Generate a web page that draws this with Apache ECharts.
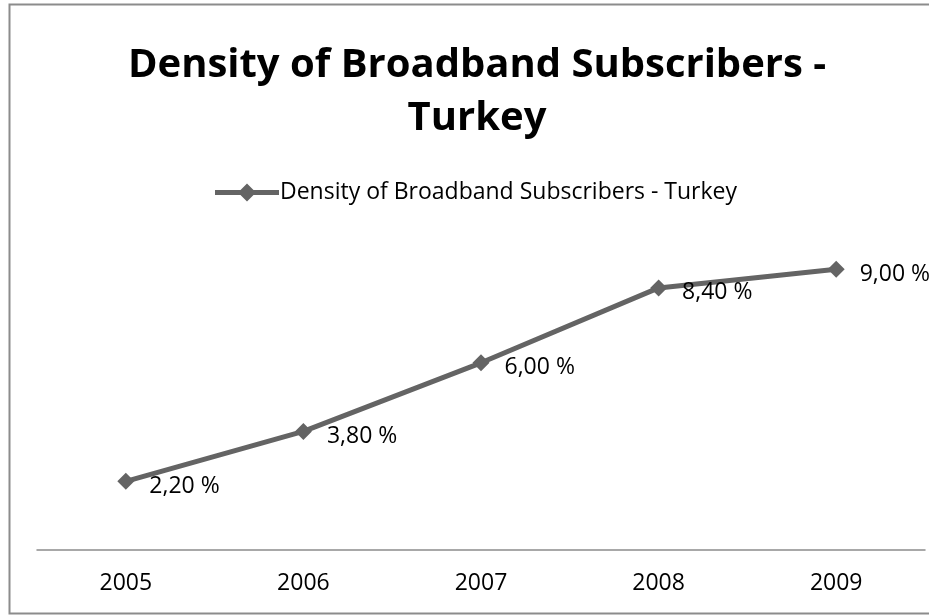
<!DOCTYPE html>
<html>
<head>
<meta charset="utf-8">
<script src="https://cdn.jsdelivr.net/npm/echarts@6/dist/echarts.min.js"></script>
<style>
  html, body { margin: 0; padding: 0; background: #fff; }
  #chart { width: 929px; height: 616px; }
</style>
</head>
<body>
<div id="chart"></div>
<script>
// Broadband subscriber density in Turkey, by year (percent)
const years = ['2005', '2006', '2007', '2008', '2009'];
const density = [2.2, 3.8, 6.0, 8.4, 9.0];
const seriesName = 'Density of Broadband Subscribers - Turkey';
const titleText = 'Density of Broadband Subscribers -\nTurkey';

const FONT = '"Open Sans", Lato, sans-serif';
const LINE = '#646464';

// legend key: thick line segment with a diamond marker in the middle
const LEGEND_ICON = 'path://M0,6.5 L25.5,6.5 L32,0 L38.5,6.5 L64,6.5 L64,11.5 L38.5,11.5 L32,18 L25.5,11.5 L0,11.5 Z';

const fmt = v => v.toFixed(2).replace('.', ',') + ' %';

const chart = echarts.init(document.getElementById('chart'), null, { renderer: 'canvas' });
chart.setOption({
  backgroundColor: '#ffffff',
  animation: false,
  graphic: [{
    type: 'rect',
    shape: { x: 9.5, y: 4.5, width: 930, height: 609 },
    style: { fill: 'none', stroke: '#8c8c8c', lineWidth: 2 },
    z: -1
  }],
  title: {
    text: titleText,
    left: 472,
    textAlign: 'center',
    top: 34,
    textStyle: {
      fontFamily: FONT,
      fontWeight: 'bold',
      fontSize: 40,
      lineHeight: 53,
      color: '#000'
    }
  },
  legend: {
    top: 176,
    left: 210,
    itemWidth: 64,
    itemHeight: 18,
    itemGap: 0,
    textStyle: { fontFamily: FONT, fontSize: 23, color: '#000', padding: [0, 0, 0, -4] },
    data: [{ name: seriesName, icon: LEGEND_ICON, itemStyle: { color: LINE } }]
  },
  grid: { left: 37, right: 4, top: 238, bottom: 66, containLabel: false, outerBoundsMode: 'none' },
  xAxis: {
    type: 'category',
    data: years,
    boundaryGap: true,
    axisLine: { show: true, lineStyle: { color: '#8c8c8c', width: 1.5 } },
    axisTick: { show: false },
    axisLabel: { fontFamily: FONT, fontSize: 23, color: '#000', margin: 22 }
  },
  yAxis: {
    type: 'value',
    min: 0,
    max: 10,
    show: false,
    splitLine: { show: false }
  },
  series: [{
    name: seriesName,
    type: 'line',
    data: density,
    symbol: 'diamond',
    symbolSize: 17,
    itemStyle: { color: LINE },
    lineStyle: { color: LINE, width: 5 },
    label: {
      show: true,
      position: 'right',
      distance: 15,
      offset: [0, 5],
      formatter: p => fmt(p.value),
      fontFamily: FONT,
      fontSize: 23,
      color: '#000'
    }
  }]
});
</script>
</body>
</html>
